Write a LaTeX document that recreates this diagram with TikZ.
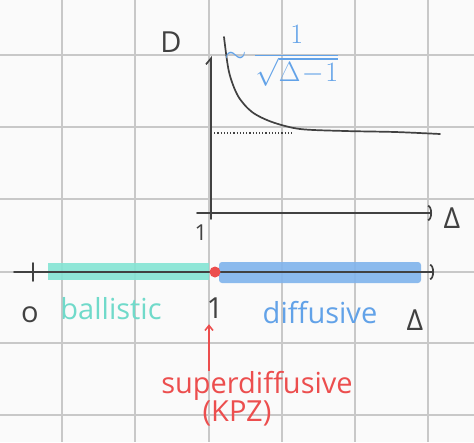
\documentclass[tikz,border=0pt]{standalone}
\usepackage{fix-cm}
\usepackage{fontspec}
\setmainfont{Open Sans}
\usetikzlibrary{arrows.meta,positioning}
\definecolor{pencil}{RGB}{65,65,65}
\definecolor{gridgray}{RGB}{200,200,200}
\definecolor{paper}{RGB}{250,250,250}
\definecolor{tealhl}{RGB}{132,228,212}
\definecolor{bluehl}{RGB}{128,180,236}
\definecolor{tealtxt}{RGB}{112,218,202}
\definecolor{bluetxt}{RGB}{98,162,232}
\definecolor{redpen}{RGB}{236,78,78}

\begin{document}
\begin{tikzpicture}[x=1pt,y=-1pt,
  gridline/.style={gridgray,line width=1.4pt},
  axis/.style={pencil,line width=1.7pt,line cap=round},
  hand/.style={font=\fontsize{29}{32}\selectfont,inner sep=1pt,text=pencil,
    text height=21pt,text depth=5pt},
  band/.style={opacity=.9,draw=none},
  redarr/.style={redpen,line width=1.6pt,-{Straight Barb[length=5pt,width=8pt]}}]
\fill[paper] (0,0) rectangle (474,442);
\useasboundingbox (0,0) rectangle (474,442);
% squared paper
\foreach \gx in {62,135,209,282,355,428} \draw[gridline] (\gx,0) -- (\gx,442);
\foreach \gy in {55,127,199,272,343,415} \draw[gridline] (0,\gy) -- (474,\gy);

% D(Delta) plot
\coordinate (ybot) at (211,219);
\coordinate (ytop) at (211,56);
\coordinate (xbeg) at (197,213);
\coordinate (xend) at (432,213);
\coordinate (dinf) at (211,133);
\coordinate (dend) at (292,133);
\draw[axis,-{Straight Barb[left,length=6pt,width=10pt]}] (ybot) -- (ytop);
\draw[axis,-{Arc Barb[length=4pt,width=16pt]}] (xbeg) -- (xend);
\draw[pencil,line width=1.2pt,dotted] (dinf) -- (dend);
\draw[axis] plot[smooth] coordinates
  {(224,37) (229,72) (238,96) (252,112) (272,122) (300,129) (345,131) (395,132) (440,134)};
\node[hand] (dlab) at (171,44) {D};
\node[hand,font=\fontsize{22}{24}\selectfont,text height=16pt,text depth=0pt] (xone) at (201,232) {1};
\node[hand] (xlab) at (452,220) {Δ};
\node[inner sep=1pt,text=bluetxt,font=\fontsize{28}{30}\selectfont]
  (law) at (282,56) {$\displaystyle\sim\frac{1}{\sqrt{\Delta\!-\!1}}$};

% phase line
\coordinate (lbeg) at (14,272);
\coordinate (lend) at (434,272);
\fill[tealhl,band] (48,263) rectangle (209,280);
\fill[bluehl,band,rounded corners=3pt] (219,262) rectangle (421,283);
\draw[axis,-{Arc Barb[length=4pt,width=16pt]}] (lbeg) -- (lend);
\draw[axis] (33,263) -- (33,281);
\fill[redpen] (215,272) circle (5.5);
\node[hand] (zero) at (30,314) {o};
\node[hand,text=tealtxt] (ball) at (111,311) {ballistic};
\node[hand] (one) at (215,310) {1};
\node[hand,text=bluetxt] (diff) at (320,315) {diffusive};
\node[hand] (dlt) at (415,322) {Δ};
\node[hand,text=redpen] (sd) at (257,385) {superdiffusive};
\node[hand,text=redpen,below=0pt of sd,xshift=-20pt] (kpz) {(KPZ)};
\draw[redarr] (sd.north -| 209,0) -- (one.south -| 209,0);
\end{tikzpicture}
\end{document}
